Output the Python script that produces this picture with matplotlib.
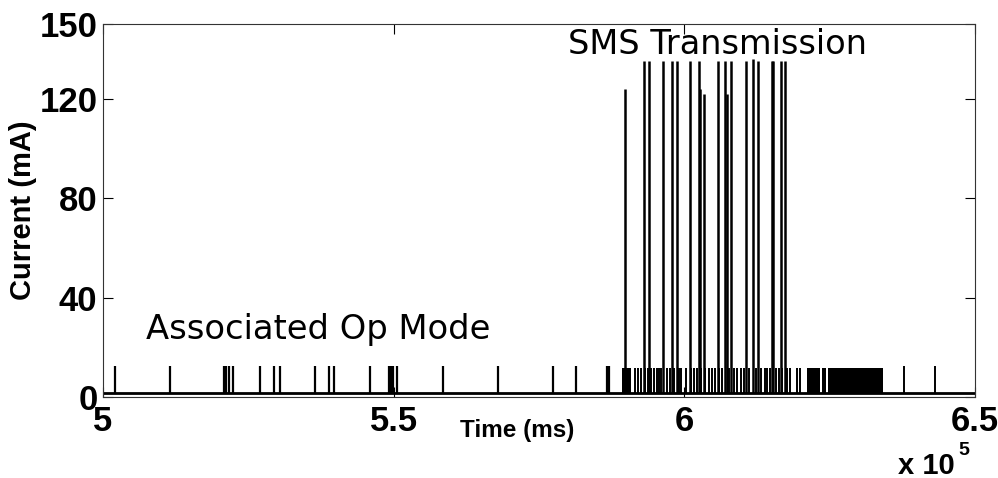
import matplotlib
matplotlib.use("Agg")
import matplotlib.pyplot as plt

# ---------------- data (time in ms, current in mA) ----------------
baseline_level = 1.5
t_start, t_end = 500000, 650000

# small spikes during associated operating mode (~12.5 mA)
assoc_spike_times = [502064, 511524, 520812, 521156, 521672, 522360, 527004,
                     529412, 530444, 536464, 538872, 539732, 545924, 549192,
                     549536, 549880, 550568, 558480, 567940, 577400, 581356,
                     586688, 587000]
assoc_spike_level = 12.5

# tall transmission spikes
sms_tall_times = [589790, 593050, 593910, 596320, 597870, 598730, 600960,
                  602510, 602680, 603370, 605780, 606980, 607330, 608020,
                  610600, 611800, 612660, 615070, 615240, 616620, 617300]
sms_tall_levels = [124, 135, 135, 135, 135, 135, 135,
                   135, 124, 122, 135, 135, 122, 135,
                   135, 136, 135, 135, 135, 135, 135]

# small spikes during SMS transmission (~11.5 mA)
sms_small_times = [591500, 592000, 592500, 593300, 593700, 594200, 594700,
                   595300, 595600, 596000, 597000, 597500, 598300, 599000,
                   599500, 600300, 601200, 601700, 602200, 602900, 603600,
                   604300, 604800, 605300, 605900, 606500, 607700, 608500,
                   609100, 609800, 610300, 611200, 612300, 613200, 613800,
                   614300, 614800, 615700, 616200, 616800, 617600, 618160,
                   619370, 619880]
sms_small_level = 11.5

# dense burst blocks (start, end) at ~11.5 mA
burst_starts = [589200, 621090, 623670, 624700]
burst_ends = [590900, 623320, 624360, 634160]
burst_level = 11.5

# isolated spikes after transmission
post_spike_times = [637770, 643100]
post_spike_level = 12.5

y_ticks = [0, 40, 80, 120, 150]
x_ticks = [500000, 550000, 600000, 650000]
x_tick_labels = ["5", "5.5", "6", "6.5"]

# ---------------- plot ----------------
plt.rcParams['font.family'] = ['Liberation Sans', 'DejaVu Sans']
fig = plt.figure(figsize=(9.98, 4.78), dpi=100)
ax = fig.add_axes([0.1032, 0.1695, 0.8738, 0.7803])

k = 'black'
ax.hlines(baseline_level, t_start, t_end, color=k, lw=2.0)
ax.vlines(assoc_spike_times, baseline_level, assoc_spike_level, color=k, lw=1.6)
ax.vlines(sms_tall_times, baseline_level, sms_tall_levels, color=k, lw=1.8)
ax.vlines(sms_small_times, baseline_level, sms_small_level, color=k, lw=1.4)
ax.vlines(post_spike_times, baseline_level, post_spike_level, color=k, lw=1.4)
for s, e in zip(burst_starts, burst_ends):
    ax.bar(s, burst_level - baseline_level, width=e - s, bottom=baseline_level,
           align='edge', color=k, lw=0)

ax.set_xlim(t_start, t_end)
ax.set_ylim(0, 150)
ax.set_yticks(y_ticks)
ax.set_yticklabels([str(v) for v in y_ticks])
ax.set_xticks(x_ticks)
ax.set_xticklabels(x_tick_labels)
ax.tick_params(direction='in', length=7, width=0.8, top=True, right=True,
               labelsize=25)
ax.tick_params(axis='x', pad=6)
ax.tick_params(axis='y', pad=4)
for lab in ax.get_xticklabels() + ax.get_yticklabels():
    lab.set_fontweight('bold')
for sp in ax.spines.values():
    sp.set_linewidth(0.8)
    sp.set_color('#333333')

ax.set_ylabel("Current (mA)", fontsize=21, fontweight='bold', labelpad=2)
fig.text(0.518, 0.10, "Time (ms)", ha='center', va='center',
         fontsize=17.5, fontweight='bold')
fig.text(0.957, 0.026, "x 10", ha='right', va='center',
         fontsize=21, fontweight='bold')
fig.text(0.960, 0.058, "5", ha='left', va='center',
         fontsize=14, fontweight='bold')

ax.text(0.569, 0.906, "SMS Transmission", transform=fig.transFigure,
        family='DejaVu Sans', fontsize=24.2, va='center', ha='left')
ax.text(0.146, 0.31, "Associated Op Mode", transform=fig.transFigure,
        family='DejaVu Sans', fontsize=24.3, va='center', ha='left')

fig.savefig("out.png", dpi=100)
